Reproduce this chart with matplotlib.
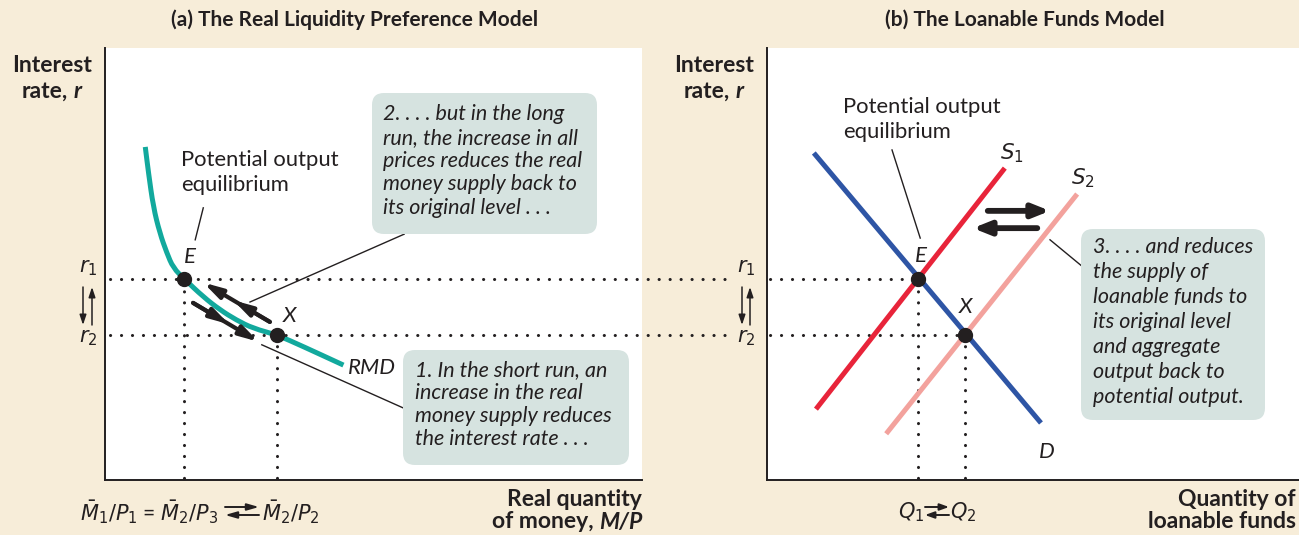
import matplotlib
matplotlib.use('Agg')
import matplotlib.pyplot as plt
from matplotlib.patches import FancyBboxPatch, PathPatch
from matplotlib.path import Path

plt.rcParams['font.family'] = ['Lato', 'DejaVu Sans']
plt.rcParams['mathtext.fontset'] = 'dejavusans'
plt.rcParams['lines.scale_dashes'] = False

# ---------------- data (schematic units 0-10 on both axes) ----------------
rmd_q = [0.75, 0.81, 0.90, 1.02, 1.15, 1.27, 1.48, 1.83, 2.14, 2.45, 2.76, 3.20, 3.69, 4.44]
rmd_r = [7.71, 7.11, 6.32, 5.72, 5.26, 4.91, 4.65, 4.24, 3.94, 3.70, 3.51, 3.36, 3.09, 2.66]
r1, r2 = 4.65, 3.36
m_E, m_X = 1.48, 3.20          # real money quantities at E and X
d_q = [0.88, 5.15]
d_r = [7.57, 1.32]
s1_q = [0.92, 4.47]
s1_r = [1.64, 7.22]
s2_q = [2.24, 5.83]
s2_r = [1.07, 6.62]
q1, q2 = 2.84, 3.72

titles = ['(a) The Real Liquidity Preference Model', '(b) The Loanable Funds Model']
box_texts = {
    'box2': ['2. . . . but in the long', 'run, the increase in all', 'prices reduces the real',
             'money supply back to', 'its original level . . .'],
    'box1': ['1. In the short run, an', 'increase in the real', 'money supply reduces',
             'the interest rate . . .'],
    'box3': ['3. . . . and reduces', 'the supply of', 'loanable funds to', 'its original level',
             'and aggregate', 'output back to', 'potential output.'],
}

# ---------------- style ----------------
W, H = 1299, 535
BG = '#F7EDD9'
TXT = '#231F20'
TEAL = '#12A99D'
BLUE = '#2E55A5'
RED = '#E8243A'
PINK = '#F3A29D'
BOX = '#D6E3E0'
DOT = dict(color=TXT, lw=2.2, linestyle=(0, (0.1, 7.8)), dash_capstyle='round')

fig = plt.figure(figsize=(W / 100, H / 100), dpi=100, facecolor=BG)


def rect(x0, y0, x1, y1):
    return [x0 / W, 1 - y1 / H, (x1 - x0) / W, (y1 - y0) / H]


axL = fig.add_axes(rect(105, 48, 642, 480))
axR = fig.add_axes(rect(767, 48, 1299, 480))
for ax in (axL, axR):
    ax.set_xlim(0, 10)
    ax.set_ylim(0, 10)
    ax.set_facecolor('white')
    for s in ('top', 'right'):
        ax.spines[s].set_visible(False)
    for s in ('left', 'bottom'):
        ax.spines[s].set_linewidth(1.4)
        ax.spines[s].set_color(TXT)
    ax.set_xticks([])
    ax.set_yticks([])

# ---------------- left panel ----------------
axL.plot([0.09, 11.73], [r1, r1], clip_on=False, **DOT)
axL.plot([0.09, 11.73], [r2, r2], clip_on=False, **DOT)
axL.plot([m_E, m_E], [0.05, r1], **DOT)
axL.plot([m_X, m_X], [0.05, r2], **DOT)

# smooth RMD curve: quadratic Bezier through midpoints of the read points
pts = list(zip(rmd_q, rmd_r))
verts = [pts[0]]
codes = [Path.MOVETO]
mids = [((pts[i][0] + pts[i + 1][0]) / 2, (pts[i][1] + pts[i + 1][1]) / 2) for i in range(len(pts) - 1)]
verts.append(mids[0])
codes.append(Path.LINETO)
for i in range(1, len(pts) - 1):
    verts += [pts[i], mids[i]]
    codes += [Path.CURVE3, Path.CURVE3]
verts.append(pts[-1])
codes.append(Path.LINETO)
axL.add_patch(PathPatch(Path(verts, codes), fill=False, ec=TEAL, lw=3.6, capstyle='butt',
                        joinstyle='round'))
axL.plot([m_E, m_X], [r1, r2], 'o', color=TXT, ms=10, zorder=5)


def thick_arrow(ax, tail, head, lw=3.0, hl=0.9, hw=0.38, ms=10, double=False):
    ap = dict(arrowstyle=f'-|>,head_length={hl},head_width={hw}', color=TXT, lw=lw,
              shrinkA=0, shrinkB=0, mutation_scale=ms)
    ax.annotate('', xy=head, xytext=tail, arrowprops=ap)
    if double:
        mid = (tail[0] + 0.55 * (head[0] - tail[0]), tail[1] + 0.55 * (head[1] - tail[1]))
        ax.annotate('', xy=mid, xytext=tail, arrowprops=ap)


thick_arrow(axL, (3.07, 3.66), (1.83, 4.57), lw=3.0, hl=1.1, hw=0.3, double=True)
thick_arrow(axL, (1.64, 4.10), (2.86, 3.20), lw=3.0, hl=1.1, hw=0.3, double=True)

# callout leader lines
axL.plot([2.70, 5.57], [4.12, 5.69], color=TXT, lw=1.0)
axL.plot([2.92, 5.55], [3.13, 1.67], color=TXT, lw=1.0)
axL.plot([1.83, 1.68], [6.30, 5.56], color=TXT, lw=1.0)

# ---------------- right panel ----------------
axR.plot([0.05, q1], [r1, r1], **DOT)
axR.plot([0.05, q2], [r2, r2], **DOT)
axR.plot([q1, q1], [0.05, r1], **DOT)
axR.plot([q2, q2], [0.05, r2], **DOT)
axR.plot(d_q, d_r, color=BLUE, lw=3.6, solid_capstyle='butt')
axR.plot(s2_q, s2_r, color=PINK, lw=3.6, solid_capstyle='butt')
axR.plot(s1_q, s1_r, color=RED, lw=3.6, solid_capstyle='butt')
axR.plot([q1, q2], [r1, r2], 'o', color=TXT, ms=10, zorder=5)
thick_arrow(axR, (4.15, 6.23), (5.32, 6.23), lw=4.2, hl=1.0, hw=0.4)
thick_arrow(axR, (5.08, 5.83), (3.87, 5.83), lw=4.2, hl=1.0, hw=0.4)
axR.plot([2.35, 2.88], [7.64, 5.60], color=TXT, lw=1.0)
axR.plot([5.32, 5.92], [5.56, 4.95], color=TXT, lw=1.0)

# ---------------- overlay (pixel coordinates) for annotations ----------------
ov = fig.add_axes([0, 0, 1, 1])
ov.set_xlim(0, W)
ov.set_ylim(H, 0)
ov.axis('off')
ov.patch.set_alpha(0)


def t(x, y, s, size=14, ha='left', va='center', **kw):
    return ov.text(x, y, s, fontsize=size, ha=ha, va=va, color=TXT, **kw)


t(355, 20, titles[0], 15, ha='center', weight='bold')
t(1025, 20, titles[1], 15, ha='center', weight='bold')

LAB = 16.5
for cx in (52, 714):
    t(cx, 66, 'Interest', LAB, ha='center', weight='bold')
    rt = t(cx - 7, 91, 'rate,', LAB, ha='center', weight='bold')
    ov.annotate('r', xy=(1, 0), xycoords=rt, xytext=(4, 0), textcoords='offset points',
                fontsize=LAB, weight='bold', style='italic', color=TXT, ha='left', va='bottom')

mp = t(642, 522, 'M/P', LAB, ha='right', weight='bold', style='italic')
ov.annotate('of money,', xy=(0, 0), xycoords=mp, xytext=(-4, 0), textcoords='offset points',
            fontsize=LAB, weight='bold', color=TXT, ha='right', va='bottom')
t(642, 499, 'Real quantity', LAB, ha='right', weight='bold')
t(1296, 499, 'Quantity of', LAB, ha='right', weight='bold')
t(1296, 522, 'loanable funds', LAB, ha='right', weight='bold')

# r labels and small arrows
for x0, xd, xu in ((88, 83, 92), (746, 742, 750)):
    t(x0, 268, r'$r_1$', 15, ha='center')
    t(x0, 338, r'$r_2$', 15, ha='center')
    ov.annotate('', xy=(xd, 325), xytext=(xd, 287),
                arrowprops=dict(arrowstyle='-|>,head_length=0.6,head_width=0.2', color=TXT, lw=1.1,
                                shrinkA=0, shrinkB=0, mutation_scale=10))
    ov.annotate('', xy=(xu, 287), xytext=(xu, 325),
                arrowprops=dict(arrowstyle='-|>,head_length=0.6,head_width=0.2', color=TXT, lw=1.1,
                                shrinkA=0, shrinkB=0, mutation_scale=10))

# bottom quantity labels
t(80, 512, r'$\bar{M}_1/P_1$ = $\bar{M}_2/P_3$', 15)
t(262, 512, r'$\bar{M}_2/P_2$', 15)
t(924, 512, r'$Q_1$', 15, ha='right')
t(950, 512, r'$Q_2$', 15)
for xa, xb, hl in ((225, 259, 0.7), (925, 949, 0.55)):
    ov.annotate('', xy=(xb, 507), xytext=(xa, 507),
                arrowprops=dict(arrowstyle=f'-|>,head_length={hl},head_width=0.2', color=TXT, lw=1.4,
                                shrinkA=0, shrinkB=0, mutation_scale=10))
    ov.annotate('', xy=(xa, 515), xytext=(xb, 515),
                arrowprops=dict(arrowstyle=f'-|>,head_length={hl},head_width=0.2', color=TXT, lw=1.4,
                                shrinkA=0, shrinkB=0, mutation_scale=10))

# curve labels
PO = 15.8
t(181, 160, 'Potential output', PO)
t(181, 185, 'equilibrium', PO)
t(843, 107, 'Potential output', PO)
t(843, 132, 'equilibrium', PO)
t(190, 257, 'E', 16, ha='center', style='italic')
t(290, 316, 'X', 16, ha='center', style='italic')
t(348, 368, 'RMD', 16, style='italic')
t(921, 256, 'E', 16, ha='center', style='italic')
t(966, 307, 'X', 16, ha='center', style='italic')
t(1012, 153, r'$S_1$', 15.5, ha='center')
t(1083, 178, r'$S_2$', 15.5, ha='center')
t(1047, 452, 'D', 16, ha='center', style='italic')

# callout boxes
BT = 15.5
for (x0, y0, x1, y1), key, tx, ys in (
        ((372, 93, 597, 234), 'box2', 383, [114, 138, 161, 184, 208]),
        ((403, 350, 629, 465), 'box1', 415, [370, 393, 416, 439]),
        ((1081, 229, 1265, 420), 'box3', 1093, [247, 272, 297, 322, 347, 372, 397])):
    ov.add_patch(FancyBboxPatch((x0 + 12, y0 + 12), (x1 - x0) - 24, (y1 - y0) - 24,
                                boxstyle='round,pad=12,rounding_size=12', fc=BOX, ec='none'))
    for line, yy in zip(box_texts[key], ys):
        t(tx, yy, line, BT, style='italic')

fig.savefig('out.png', dpi=100, facecolor=BG)
